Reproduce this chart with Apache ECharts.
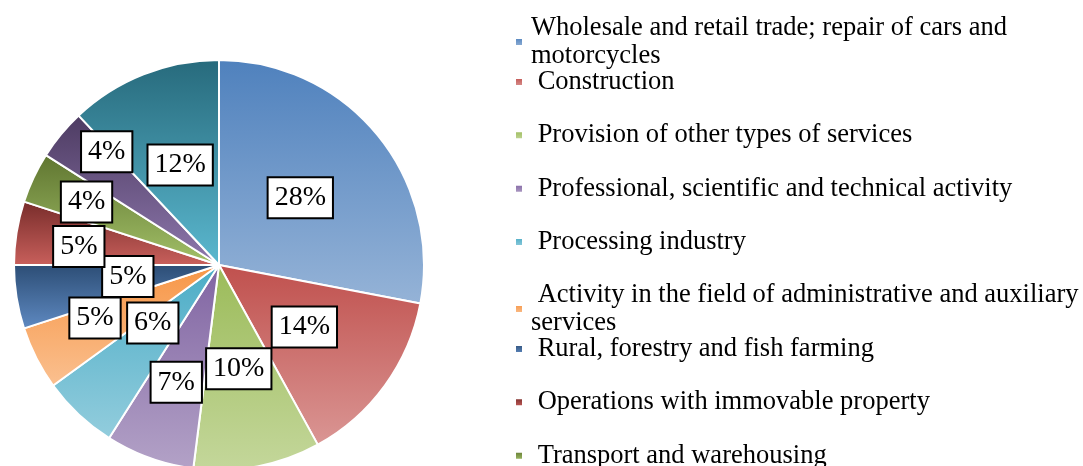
<!DOCTYPE html>
<html>
<head>
<meta charset="utf-8">
<title>Structure by type of activity</title>
<script src="https://cdn.jsdelivr.net/npm/echarts@6/dist/echarts.min.js"></script>
<style>
html, body { margin: 0; padding: 0; background: #fff; }
#main { width: 1083px; height: 466px; }
</style>
</head>
<body>
<div id="main"></div>
<script>
var categories = [
	'Wholesale and retail trade; repair of cars and motorcycles',
	'Construction',
	'Provision of other types of services',
	'Professional, scientific and technical activity',
	'Processing industry',
	'Activity in the field of administrative and auxiliary services',
	'Rural, forestry and fish farming',
	'Operations with immovable property',
	'Transport and warehousing',
	'Information and communication',
	'Other activities'
];
var shares = [28, 14, 10, 7, 6, 5, 5, 5, 4, 4, 12];

// only the first 9 fit in the legend
var legendCount = 9;
var legendWrap = {
	'Wholesale and retail trade; repair of cars and motorcycles': 'Wholesale and retail trade; repair of cars and\nmotorcycles',
	'Activity in the field of administrative and auxiliary services': ' Activity in the field of administrative and auxiliary\nservices'
};

var topColors = ['#4F81BD', '#C0504D', '#9BBB59', '#8064A2', '#4BACC6', '#F79646', '#2C4D75', '#772C2A', '#5F7530', '#4D3B62', '#276A7C'];
var bottomColors = ['#95B3D7', '#DA9694', '#C4D79B', '#B3A2C7', '#93CDDD', '#FAC090', '#5F8AC2', '#C9605C', '#A3C168', '#8E78AD', '#5BB8CF'];

// label nudges, like the hand-placed boxes in the original
var labelShift = [[0, 0], [0, 0], [0, 0], [-7, 18], [6, -19], [-30, 5], [13, -5], [-36, -2], [-37, -18], [-31, -46], [0, -2]];

function loadChart(){
	var myChart = echarts.init(document.getElementById('main'));

	var pieData = categories.map(function (name, i) {
		return {
			name: name,
			value: shares[i],
			itemStyle: {
				color: new echarts.graphic.LinearGradient(0, 0, 0, 1, [
					{ offset: 0, color: topColors[i] },
					{ offset: 1, color: bottomColors[i] }
				])
			}
		};
	});

	var legends = [];
	for (var i = 0; i < legendCount; i++) {
		legends.push({
			orient: 'vertical',
			left: 514,
			top: 14.5 + i * 53.4,
			padding: 0,
			itemWidth: 8,
			itemHeight: 8,
			icon: 'rect',
			selectedMode: false,
			data: [categories[i]],
			formatter: function (name) {
				if (legendWrap[name]) return legendWrap[name];
				return (name === categories[0] ? '' : ' ') + name;
			},
			textStyle: {
				fontFamily: '"Liberation Serif", "Times New Roman", serif',
				fontSize: 26.5,
				color: '#000',
				lineHeight: 28,
				height: 28,
				padding: [0, 0, 0, 3]
			}
		});
	}

	var option = {
		backgroundColor: '#fff',
		animation: false,
		legend: legends,
		series: [{
			type: 'pie',
			center: [219, 265],
			radius: 205,
			startAngle: 90,
			clockwise: true,
			data: pieData,
			itemStyle: {
				borderColor: '#fff',
				borderWidth: 2
			},
			label: {
				show: true,
				position: 'inside',
				formatter: '{c}%',
				fontFamily: '"Liberation Serif", "Times New Roman", serif',
				fontSize: 28,
				color: '#000',
				backgroundColor: '#fff',
				borderColor: '#000',
				borderWidth: 2,
				padding: [6, 6, 5, 6]
			},
			labelLine: { show: false },
			labelLayout: function (params) {
				var s = labelShift[params.dataIndex];
				return { dx: s[0], dy: s[1] };
			},
			emphasis: { disabled: true }
		}]
	};
	myChart.setOption(option);
}

loadChart();
</script>
</body>
</html>
